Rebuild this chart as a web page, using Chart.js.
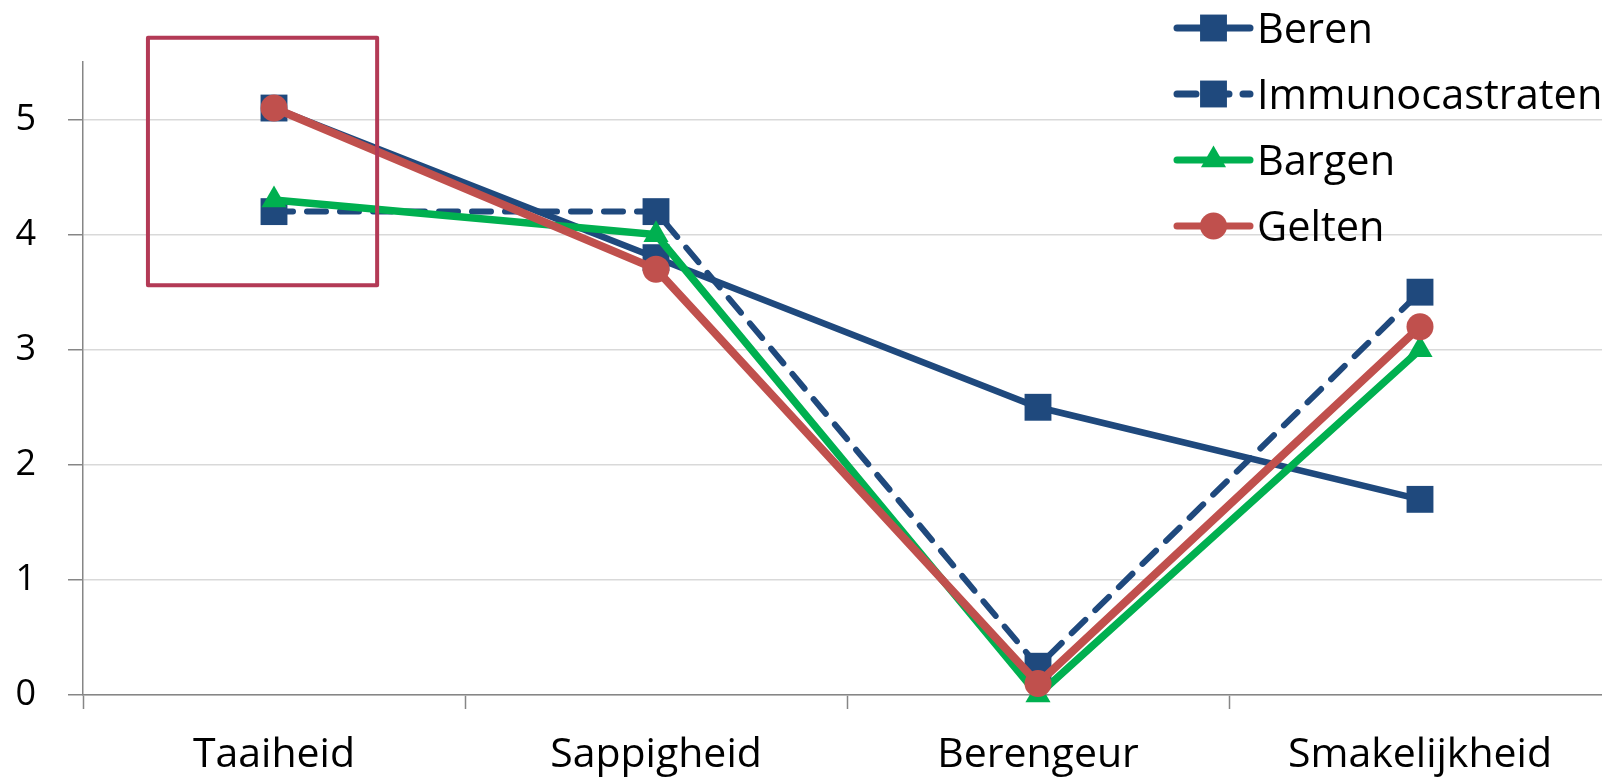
<!DOCTYPE html>
<html>
<head>
<meta charset="utf-8">
<script src="https://cdn.jsdelivr.net/npm/chart.js@4.4.1/dist/chart.umd.min.js"></script>
<style>
  html, body { margin: 0; padding: 0; background: #fff; }
  canvas { display: block; }
</style>
</head>
<body>
<canvas id="chart" width="1602" height="781"></canvas>
<script>
const categories = ['Taaiheid', 'Sappigheid', 'Berengeur', 'Smakelijkheid'];
const beren = [5.1, 3.8, 2.5, 1.7];
const immunocastraten = [4.2, 4.2, 0.25, 3.5];
const bargen = [4.3, 4.0, 0.0, 3.0];
const gelten = [5.1, 3.7, 0.1, 3.2];
const yMin = 0;
const yMax = 5.5;

const navy = '#1F497D';
const green = '#00B050';
const red = '#C0504D';
const fontFamily = "'Open Sans', sans-serif";

// the original picture is cropped: the plot runs a few px past the right edge
const overhangPlugin = {
  id: 'overhang',
  afterLayout(chart) {
    const extra = 9;
    const xs = chart.scales.x;
    chart.chartArea.right += extra;
    chart.chartArea.width += extra;
    xs.right += extra;
    xs.width += extra;
    xs.configure();
  }
};

// legend sits on top of the plot, like in the Excel original
const legendPlugin = {
  id: 'overlayLegend',
  afterDraw(chart) {
    const ctx = chart.ctx;
    const x0 = 1177, x1 = 1250, top = 28, step = 66, size = 41.5;
    chart.data.datasets.forEach((ds, i) => {
      const y = top + i * step;
      ctx.save();
      ctx.strokeStyle = ds.borderColor;
      ctx.lineWidth = 7;
      ctx.lineCap = 'round';
      ctx.setLineDash(ds.borderDash || []);
      ctx.beginPath();
      ctx.moveTo(x0, y);
      ctx.lineTo(x1, y);
      ctx.stroke();
      ctx.setLineDash([]);
      ctx.fillStyle = ds.pointBackgroundColor;
      Chart.helpers.drawPoint(ctx, {
        pointStyle: ds.pointStyle, radius: ds.pointRadius, borderWidth: 0, rotation: 0
      }, (x0 + x1) / 2, y);
      ctx.fillStyle = '#000';
      ctx.font = size + 'px ' + fontFamily;
      ctx.textAlign = 'left';
      ctx.textBaseline = 'alphabetic';
      ctx.fillText(ds.label, 1257, y + size * 0.357);
      ctx.restore();
    });
  }
};

// red highlight box around the first category
const boxPlugin = {
  id: 'highlightBox',
  afterDraw(chart) {
    const xs = chart.scales.x, ys = chart.scales.y;
    const band = xs.getPixelForValue(1) - xs.getPixelForValue(0);
    const left = xs.getPixelForValue(0) - 0.33 * band;
    const right = xs.getPixelForValue(0) + 0.27 * band;
    const top = ys.getPixelForValue(5.71);
    const bottom = ys.getPixelForValue(3.56);
    const ctx = chart.ctx;
    ctx.save();
    ctx.strokeStyle = '#B33A56';
    ctx.lineWidth = 4;
    ctx.lineJoin = 'round';
    ctx.strokeRect(left, top, right - left, bottom - top);
    ctx.restore();
  }
};

new Chart(document.getElementById('chart'), {
  type: 'line',
  data: {
    labels: categories,
    datasets: [
      {
        label: 'Beren', data: beren, order: 4,
        borderColor: navy, borderWidth: 6.5,
        pointStyle: 'rect', pointRadius: 19, pointBackgroundColor: navy, pointBorderWidth: 0
      },
      {
        label: 'Immunocastraten', data: immunocastraten, order: 3,
        borderColor: navy, borderWidth: 6, borderDash: [19, 14], borderCapStyle: 'round',
        pointStyle: 'rect', pointRadius: 19, pointBackgroundColor: navy, pointBorderWidth: 0
      },
      {
        label: 'Bargen', data: bargen, order: 2,
        borderColor: green, borderWidth: 7.5,
        pointStyle: 'triangle', pointRadius: 14.5, pointBackgroundColor: green, pointBorderWidth: 0
      },
      {
        label: 'Gelten', data: gelten, order: 1,
        borderColor: red, borderWidth: 8,
        pointStyle: 'circle', pointRadius: 13.5, pointBackgroundColor: red, pointBorderWidth: 0
      }
    ]
  },
  options: {
    responsive: false,
    animation: false,
    devicePixelRatio: 1,
    tension: 0,
    clip: false,
    layout: { autoPadding: false, padding: { top: 62, right: 0, left: 0, bottom: 0 } },
    plugins: { legend: { display: false }, tooltip: { enabled: false } },
    scales: {
      x: {
        offset: true,
        grid: { offset: true, drawOnChartArea: false, tickLength: 14, tickColor: '#868686', tickWidth: 1.5 },
        border: { color: '#868686', width: 1.5 },
        ticks: { color: '#000', padding: 22, font: { family: fontFamily, size: 41 } },
        afterFit(scale) {
          scale.height = 86;
          scale.paddingLeft = 0;
          scale.paddingRight = 0;
        }
      },
      y: {
        min: yMin,
        max: yMax,
        grid: { color: '#D9D9D9', lineWidth: 1.5, tickLength: 15, tickColor: '#868686', tickWidth: 1.5 },
        border: { color: '#868686', width: 1.5 },
        ticks: { stepSize: 1, includeBounds: false, color: '#000', padding: 32, font: { family: fontFamily, size: 36 } },
        afterFit(scale) {
          scale.width = 83;
          scale.paddingTop = 0;
          scale.paddingBottom = 0;
        }
      }
    }
  },
  plugins: [overhangPlugin, legendPlugin, boxPlugin]
});
</script>
</body>
</html>
